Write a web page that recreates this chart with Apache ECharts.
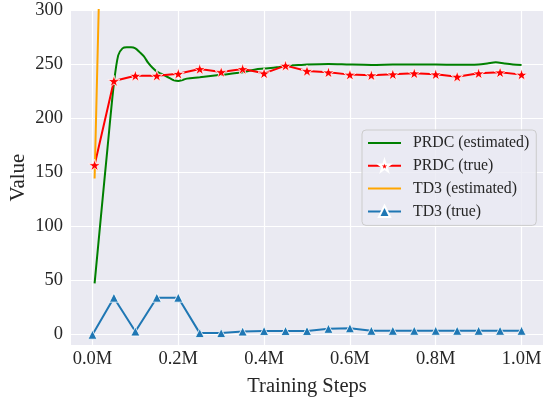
<!DOCTYPE html>
<html>
<head>
<meta charset="utf-8">
<script src="https://cdn.jsdelivr.net/npm/echarts@6/dist/echarts.min.js"></script>
<style>
html,body{margin:0;padding:0;background:#fff;}
#chart{width:543px;height:397px;}
</style>
</head>
<body>
<div id="chart"></div>
<script>
// ---- data (steps in millions) ----
const xTicks = [0, 0.2, 0.4, 0.6, 0.8, 1.0];
const yTicks = [0, 50, 100, 150, 200, 250, 300];

const prdcEstSteps = [0.005, 0.02, 0.035, 0.05, 0.06, 0.07, 0.08, 0.09, 0.1, 0.11, 0.12, 0.13, 0.14, 0.15, 0.16, 0.17, 0.18, 0.19, 0.2, 0.21, 0.22, 0.25, 0.3, 0.35, 0.38, 0.4, 0.43, 0.45, 0.48, 0.5, 0.55, 0.6, 0.65, 0.7, 0.75, 0.8, 0.85, 0.9, 0.92, 0.94, 0.96, 0.98, 1.0];
const prdcEst = [47, 110, 172, 232, 258, 264.5, 265.5, 265.5, 264.5, 261, 257, 251, 246.5, 243, 241, 239, 237, 235, 234.3, 235.2, 236.5, 237.7, 240, 242.4, 245, 245.8, 247, 248.3, 249, 249.5, 250, 249.5, 249.2, 249.5, 249.6, 249.5, 249.3, 249.6, 250.5, 251.6, 250.5, 249.6, 249.2];

const prdcTrueSteps = [0.005, 0.05, 0.1, 0.15, 0.2, 0.25, 0.3, 0.35, 0.4, 0.45, 0.5, 0.55, 0.6, 0.65, 0.7, 0.75, 0.8, 0.85, 0.9, 0.95, 1.0];
const prdcTrue = [156.5, 234.3, 239.2, 239.2, 241, 245.4, 242.6, 245.4, 241.4, 248.5, 243.6, 242.3, 240.2, 239.6, 240.5, 241.4, 240.5, 238.3, 241.4, 242.3, 240.2];

const td3EstSteps = [0.005, 0.05, 0.1];
const td3Est = [144, 880, 1800];

const td3TrueSteps = [0, 0.05, 0.1, 0.15, 0.2, 0.25, 0.3, 0.35, 0.4, 0.45, 0.5, 0.55, 0.6, 0.65, 0.7, 0.75, 0.8, 0.85, 0.9, 0.95, 1.0];
const td3True = [-0.5, 33.8, 2.5, 33.8, 33.8, 1, 1, 2.5, 3, 3, 3, 5, 5.5, 3.2, 3.2, 3.2, 3.2, 3.2, 3.2, 3.2, 3.2];

const names = ['PRDC (estimated)', 'PRDC (true)', 'TD3 (estimated)', 'TD3 (true)'];

const zip = (xs, ys) => xs.map((x, i) => [x, ys[i]]);
const STAR = 'path://M100,0 L122.45,69.1 L195.11,69.1 L136.33,111.8 L158.78,180.9 L100,138.2 L41.22,180.9 L63.67,111.8 L4.89,69.1 L77.55,69.1 Z';
const LINE_ICON = 'path://M0,0 L66,0 L66,4 L0,4 Z';
const FONT = '"Liberation Serif", "Times New Roman", serif';
const TXT = '#262626';

const chart = echarts.init(document.getElementById('chart'), null, {renderer: 'canvas'});
chart.setOption({
  backgroundColor: '#ffffff',
  animation: false,
  textStyle: {fontFamily: FONT},
  grid: {left: 71, top: 10, right: 0, height: 335, show: true, backgroundColor: '#eaeaf2', borderWidth: 0,
         containLabel: false, outerBoundsMode: 'none'},
  legend: {
    orient: 'vertical', left: 362, top: 130,
    padding: [5, 7, 6, 5], itemWidth: 33, itemHeight: 14, itemGap: 6.8,
    symbolKeepAspect: true,
    backgroundColor: 'rgba(234,234,242,0.8)', borderColor: '#cccccc', borderWidth: 1, borderRadius: 4,
    textStyle: {fontFamily: FONT, fontSize: 15.8, color: TXT, padding: [0, 0, 0, 7]},
    data: [
      {name: names[0], icon: LINE_ICON},
      {name: names[1]},
      {name: names[2], icon: LINE_ICON},
      {name: names[3]}
    ]
  },
  xAxis: {
    type: 'value', min: -0.05, max: 1.05,
    name: 'Training Steps', nameLocation: 'middle', nameGap: 31,
    nameTextStyle: {fontFamily: FONT, fontSize: 20.5, color: TXT},
    axisLine: {show: false}, axisTick: {show: false, customValues: xTicks},
    axisLabel: {customValues: xTicks, formatter: v => v.toFixed(1) + 'M', fontFamily: FONT, fontSize: 18.5, color: TXT, margin: 5},
    splitLine: {show: true, lineStyle: {color: '#ffffff', width: 1.2}}
  },
  yAxis: {
    type: 'value', min: -10, max: 300,
    name: 'Value', nameLocation: 'middle', nameGap: 42, nameMoveOverlap: false,
    nameTextStyle: {fontFamily: FONT, fontSize: 21, color: TXT},
    axisLine: {show: false}, axisTick: {show: false, customValues: yTicks},
    axisLabel: {customValues: yTicks, fontFamily: FONT, fontSize: 18.5, color: TXT, margin: 8},
    splitLine: {show: true, lineStyle: {color: '#ffffff', width: 1.2}}
  },
  series: [
    {name: names[0], type: 'line', data: zip(prdcEstSteps, prdcEst), symbol: 'none', smooth: 0.3,
     lineStyle: {color: '#008000', width: 2}, itemStyle: {color: '#008000'}, clip: true},
    {name: names[1], type: 'line', data: zip(prdcTrueSteps, prdcTrue), symbol: STAR, symbolSize: 12, symbolKeepAspect: true,
     lineStyle: {color: '#ff0000', width: 2}, itemStyle: {color: '#ff0000', borderColor: '#ffffff', borderWidth: 0.8}, clip: true, z: 3},
    {name: names[2], type: 'line', data: zip(td3EstSteps, td3Est), symbol: 'none',
     lineStyle: {color: '#ffa500', width: 2}, itemStyle: {color: '#ffa500'}, clip: true},
    {name: names[3], type: 'line', data: zip(td3TrueSteps, td3True), symbol: 'triangle', symbolSize: 9,
     lineStyle: {color: '#1f77b4', width: 2}, itemStyle: {color: '#1f77b4', borderColor: '#ffffff', borderWidth: 0.8}, clip: true}
  ]
});
</script>
</body>
</html>
